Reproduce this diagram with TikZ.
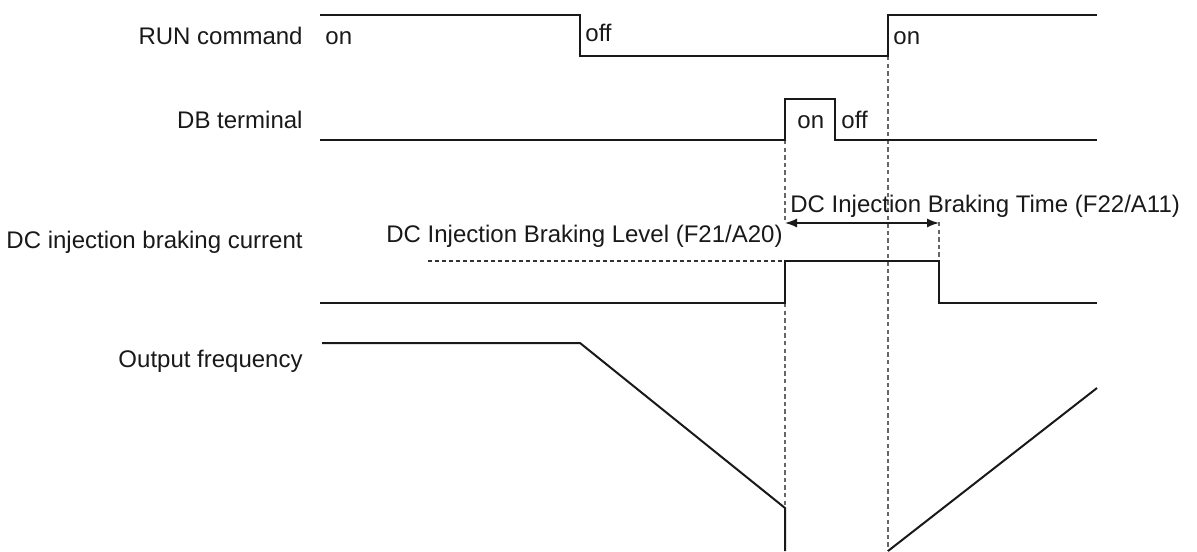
\documentclass[tikz,border=0pt]{standalone}
\usepackage{fontspec}
\setmainfont{Liberation Sans}
\usetikzlibrary{arrows.meta}

\begin{document}
\begin{tikzpicture}[
    x = 0.5pt, y = -0.5pt,
    font = \fontsize{12pt}{14pt}\selectfont,
    %% ── styles ───────────────────────────────────────────────
    signal/.style  = {line width=1pt, black!90, line join=miter},
    guide/.style   = {line width=0.75pt, black!60, dash pattern=on 2.2pt off 1.6pt},
    levelln/.style = {line width=0.6pt, black!80, dash pattern=on 2pt off 1.5pt},
    rowlbl/.style  = {anchor=base east, inner sep=0pt, text=black!90},
    txt/.style     = {anchor=base west, inner sep=0pt, text=black!90},
    dimarr/.style  = {{Latex[length=6pt,width=4.5pt]}-{Latex[length=6pt,width=4.5pt]},
                      line width=0.75pt, black!90}
]
\useasboundingbox (0,0) rectangle (1197,551);

%% ── Row labels ───────────────────────────────────────────────
\node[rowlbl] (lrun)  at (303,45)  {RUN command};
\node[rowlbl] (ldb)   at (303,128) {DB terminal};
\node[rowlbl] (ldc)   at (303,248) {DC injection braking current};
\node[rowlbl] (lfreq) at (303,367) {Output frequency};

%% ── Guide lines ──────────────────────────────────────────────
\draw[guide] (785,140) -- (785,222);
\draw[guide] (785,303) -- (785,508);
\draw[guide] (888,56)  -- (888,551);
\draw[guide] (939,222) -- (939,261);
\draw[levelln] (428,261) -- (785,261);

%% ── RUN command ──────────────────────────────────────────────
\draw[signal] (320,15) -- (580,15) -- (580,56) -- (888,56) -- (888,15) -- (1097,15);
\node[txt] (runon)  at (325,45) {on};
\node[txt] (runoff) at (585,42) {off};
\node[txt] (runon2) at (893,45) {on};

%% ── DB terminal ──────────────────────────────────────────────
\draw[signal] (320,140) -- (785,140) -- (785,99) -- (835,99) -- (835,140) -- (1097,140);
\node[txt] (dbon)  at (797,128) {on};
\node[txt] (dboff) at (841,128) {off};

%% ── DC injection braking current ─────────────────────────────
\draw[signal] (320,303) -- (785,303) -- (785,261) -- (939,261) -- (939,303) -- (1097,303);
\node[anchor=base east, inner sep=0pt, text=black!90] (level) at (783,242)
    {DC Injection Braking Level (F21/A20)};
\node[txt] (time) at (790,212) {DC Injection Braking Time (F22/A11)};
\coordinate (tstart) at (785,223);
\coordinate (tend)   at (939,223);
\draw[dimarr] (tstart) -- (tend);

%% ── Output frequency ─────────────────────────────────────────
\draw[signal] (322,343) -- (580,343) -- (785,508) -- (785,551);
\draw[signal] (888,551) -- (1097,388);

\end{tikzpicture}
\end{document}
